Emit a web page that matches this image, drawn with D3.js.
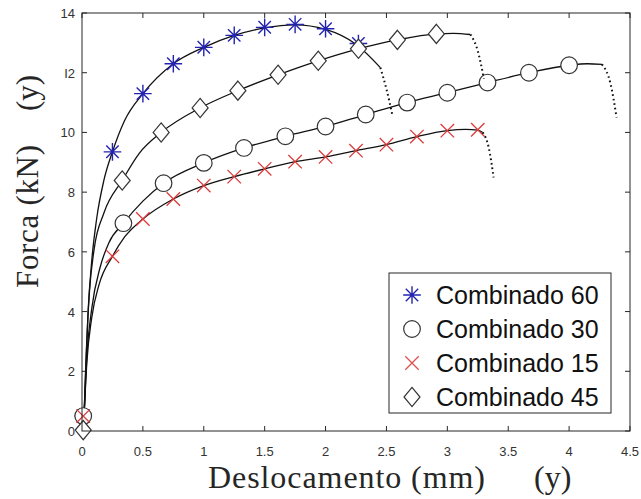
<!DOCTYPE html>
<html>
<head>
<meta charset="utf-8">
<script src="https://cdn.jsdelivr.net/npm/d3@7"></script>
<style>
  body { margin: 0; background: #fff; }
  .tick-label { font-family: "Liberation Sans", Arial, sans-serif; font-size: 13px; fill: #333; }
  .axis-title { font-family: "Liberation Serif", "Times New Roman", serif; fill: #262626; }
  .legend-text { font-family: "Liberation Sans", Arial, sans-serif; font-size: 25px; fill: #111; }
</style>
</head>
<body>
<svg id="chart"></svg>
<script>
var width = 641, height = 499;
var margin = { top: 13, right: 11, bottom: 68, left: 82 };

// series names, in legend order
var seriesNames = ["Combinado 60", "Combinado 30", "Combinado 15", "Combinado 45"];
var seriesMarkers = ["star", "circle", "cross", "diamond"];
var seriesColors = ["#2323b0", "#333333", "#dd3a3a", "#333333"];

// solid part of each curve  [x (mm), y (kN)]
var line60 = [[0.015,0.3],[0.03,2],[0.05,4],[0.08,5.7],[0.12,7.1],[0.18,8.4],[0.25,9.35],[0.35,10.4],[0.5,11.3],[0.75,12.3],[1,12.85],[1.25,13.25],[1.5,13.5],[1.75,13.6],[2,13.45],[2.25,12.95],[2.45,12.17]];
var line30 = [[0.015,0.3],[0.04,2.5],[0.08,4.1],[0.15,5.5],[0.22,6.3],[0.34,6.96],[0.5,7.7],[0.67,8.3],[1,8.98],[1.33,9.48],[1.67,9.87],[2,10.2],[2.33,10.6],[2.67,11],[3,11.33],[3.33,11.67],[3.67,12],[4,12.25],[4.15,12.3],[4.27,12.28]];
var line15 = [[0.015,0.3],[0.04,2.3],[0.08,3.8],[0.14,4.9],[0.25,5.85],[0.35,6.5],[0.5,7.1],[0.75,7.77],[1,8.22],[1.25,8.52],[1.5,8.78],[1.75,9.02],[2,9.18],[2.25,9.39],[2.5,9.59],[2.75,9.86],[3,10.06],[3.15,10.1],[3.25,10.08],[3.29,10.0]];
var line45 = [[0.015,0.3],[0.035,2.6],[0.06,4.6],[0.1,6.1],[0.18,7.3],[0.33,8.39],[0.47,9.3],[0.65,10],[0.97,10.82],[1.28,11.4],[1.61,11.93],[1.94,12.4],[2.27,12.8],[2.59,13.1],[2.91,13.3],[3.05,13.32],[3.19,13.28]];

// dotted tail of each curve
var tail60 = [[2.45,12.17],[2.5,11.45],[2.55,10.56]];
var tail30 = [[4.27,12.28],[4.34,11.63],[4.39,10.5]];
var tail15 = [[3.29,10.0],[3.34,9.49],[3.38,8.49]];
var tail45 = [[3.19,13.28],[3.25,12.73],[3.3,11.8]];

// marker positions
var marks60 = [[0.01,0.5],[0.25,9.35],[0.5,11.3],[0.75,12.3],[1,12.85],[1.25,13.25],[1.5,13.52],[1.75,13.62],[2,13.47],[2.27,12.98]];
var marks30 = [[0.01,0.5],[0.34,6.96],[0.67,8.3],[1,8.98],[1.33,9.48],[1.67,9.87],[2,10.2],[2.33,10.6],[2.67,11],[3,11.33],[3.33,11.67],[3.67,12],[4,12.25]];
var marks15 = [[0.01,0.5],[0.25,5.85],[0.5,7.1],[0.75,7.77],[1,8.22],[1.25,8.52],[1.5,8.78],[1.75,9.02],[2,9.18],[2.25,9.39],[2.5,9.59],[2.75,9.86],[3,10.06],[3.25,10.09]];
var marks45 = [[0.01,0.03],[0.33,8.39],[0.65,10],[0.97,10.82],[1.28,11.4],[1.61,11.93],[1.94,12.4],[2.27,12.8],[2.59,13.1],[2.91,13.3]];

var xTicks = [0, 0.5, 1, 1.5, 2, 2.5, 3, 3.5, 4, 4.5];
var yTicks = [0, 2, 4, 6, 8, 10, 12, 14];
var yTickLabels = ["0", "2", "4", "6", "8", "10", "I2", "14"];

var lines = [line60, line30, line15, line45];
var tails = [tail60, tail30, tail15, tail45];
var marks = [marks60, marks30, marks15, marks45];

var svg = d3.select("#chart").attr("width", width).attr("height", height);
svg.append("rect").attr("width", width).attr("height", height).attr("fill", "#fff");

var xScale = d3.scaleLinear().domain([0, 4.5]).range([margin.left, width - margin.right]);
var yScale = d3.scaleLinear().domain([0, 14]).range([height - margin.bottom, margin.top]);

var x0 = xScale(0), x1 = xScale(4.5), y0 = yScale(0), y1 = yScale(14);

// ticks on all four sides, pointing in
var tickLen = 5;
var tickG = svg.append("g").attr("stroke", "#262626").attr("stroke-width", 1);
xTicks.forEach(function (t) {
  tickG.append("line").attr("x1", xScale(t)).attr("x2", xScale(t)).attr("y1", y0).attr("y2", y0 - tickLen);
  tickG.append("line").attr("x1", xScale(t)).attr("x2", xScale(t)).attr("y1", y1).attr("y2", y1 + tickLen);
});
yTicks.forEach(function (t) {
  tickG.append("line").attr("x1", x0).attr("x2", x0 + tickLen).attr("y1", yScale(t)).attr("y2", yScale(t));
  tickG.append("line").attr("x1", x1).attr("x2", x1 - tickLen).attr("y1", yScale(t)).attr("y2", yScale(t));
});

svg.selectAll(".xlab").data(xTicks).enter().append("text")
  .attr("class", "tick-label")
  .attr("x", d => xScale(d))
  .attr("y", y0 + 25)
  .attr("text-anchor", "middle")
  .text(d => d);

svg.selectAll(".ylab").data(yTicks).enter().append("text")
  .attr("class", "tick-label")
  .attr("x", x0 - 7)
  .attr("y", d => yScale(d) + 5)
  .attr("text-anchor", "end")
  .text((d, i) => yTickLabels[i]);

// curves
var lineGen = d3.line().x(d => xScale(d[0])).y(d => yScale(d[1])).curve(d3.curveMonotoneX);

svg.selectAll(".curve").data(lines).enter().append("path")
  .attr("d", lineGen)
  .attr("fill", "none")
  .attr("stroke", "#111")
  .attr("stroke-width", 1.3);

function drawMarker(g, type, color, cx, cy, s) {
  if (type === "star") {
    var r = s * 0.55;
    var p = "";
    [0, 45, 90, 135].forEach(function (a) {
      var rad = a * Math.PI / 180;
      var dx = r * Math.cos(rad), dy = r * Math.sin(rad);
      p += "M" + (cx - dx) + "," + (cy - dy) + "L" + (cx + dx) + "," + (cy + dy);
    });
    g.append("path").attr("d", p).attr("stroke", color).attr("stroke-width", 1.4).attr("fill", "none");
  } else if (type === "circle") {
    g.append("circle").attr("cx", cx).attr("cy", cy).attr("r", s * 0.52)
      .attr("fill", "#fff").attr("stroke", color).attr("stroke-width", 1.2);
  } else if (type === "cross") {
    var c = s * 0.42;
    g.append("path")
      .attr("d", "M" + (cx - c) + "," + (cy - c) + "L" + (cx + c) + "," + (cy + c) + "M" + (cx - c) + "," + (cy + c) + "L" + (cx + c) + "," + (cy - c))
      .attr("stroke", color).attr("stroke-width", 1.3);
  } else if (type === "diamond") {
    var w = s * 0.5, h = s * 0.6;
    g.append("path")
      .attr("d", "M" + cx + "," + (cy - h) + "L" + (cx + w) + "," + cy + "L" + cx + "," + (cy + h) + "L" + (cx - w) + "," + cy + "Z")
      .attr("fill", "#fff").attr("stroke", color).attr("stroke-width", 1.2);
  }
}

marks.forEach(function (m, si) {
  var g = svg.append("g");
  m.forEach(function (d) {
    drawMarker(g, seriesMarkers[si], seriesColors[si], xScale(d[0]), yScale(d[1]), 16);
  });
});

svg.selectAll(".tail").data(tails).enter().append("path")
  .attr("d", lineGen)
  .attr("fill", "none")
  .attr("stroke", "#111")
  .attr("stroke-width", 2)
  .attr("stroke-dasharray", "1.6,3");

// axes box
svg.append("rect")
  .attr("x", x0).attr("y", y1)
  .attr("width", x1 - x0).attr("height", y0 - y1)
  .attr("fill", "none").attr("stroke", "#262626").attr("stroke-width", 1);

// legend
var lg = svg.append("g");
lg.append("rect").attr("x", 389).attr("y", 273).attr("width", 222).attr("height", 140)
  .attr("fill", "#fff").attr("stroke", "#262626").attr("stroke-width", 1);
seriesNames.forEach(function (name, i) {
  var cy = 295 + i * 34;
  drawMarker(lg, seriesMarkers[i], i === 2 ? "#e05050" : seriesColors[i], 412, cy, 16);
  lg.append("text").attr("class", "legend-text").attr("x", 436).attr("y", cy + 9).text(name);
});

// axis titles
svg.append("text").attr("class", "axis-title")
  .attr("x", 208).attr("y", 488)
  .attr("font-size", 32)
  .attr("textLength", 277).attr("lengthAdjust", "spacing")
  .text("Deslocamento (mm)");
svg.append("text").attr("class", "axis-title")
  .attr("x", 534).attr("y", 488)
  .attr("font-size", 32)
  .text("(y)");

svg.append("text").attr("class", "axis-title")
  .attr("transform", "translate(38,288) rotate(-90)")
  .attr("font-size", 31)
  .attr("textLength", 143).attr("lengthAdjust", "spacing")
  .text("Forca (kN)");
svg.append("text").attr("class", "axis-title")
  .attr("transform", "translate(38,111) rotate(-90)")
  .attr("font-size", 31)
  .text("(y)");
</script>
</body>
</html>
